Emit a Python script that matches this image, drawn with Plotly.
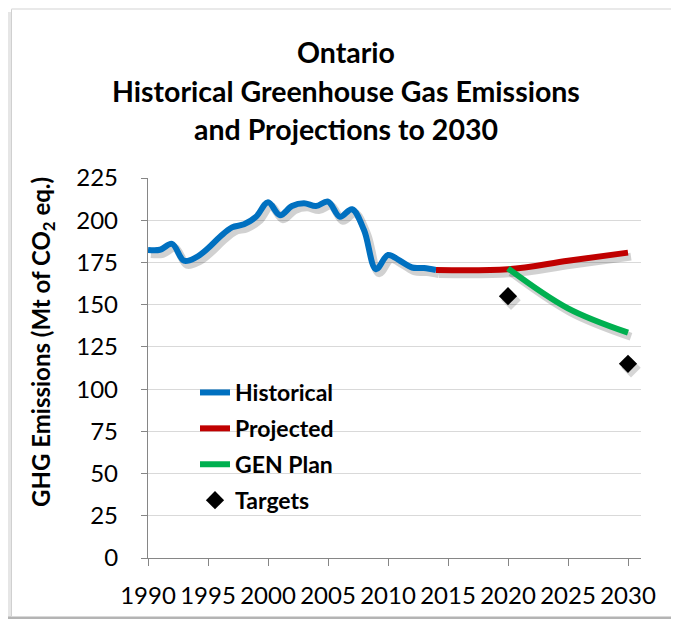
import plotly.graph_objects as go

# ---- data ----
hist_years = list(range(1990, 2015))
hist_values = [182.4, 182.5, 186, 176, 178, 183.4, 190.2, 195.8, 197.6, 202,
               210.6, 203, 208.4, 210, 208.4, 211, 202, 206.5, 194.2, 171,
               179.4, 176, 172, 171.7, 170.5]
proj_years = [2014, 2020, 2025, 2030]
proj_values = [170.5, 171, 176, 180.8]
gen_years = [2020, 2025, 2030]
gen_values = [171.5, 147.8, 133.4]
target_years = [2020, 2030]
target_values = [155, 115]
x_ticks = [1990, 1995, 2000, 2005, 2010, 2015, 2020, 2025, 2030]
y_ticks = [0, 25, 50, 75, 100, 125, 150, 175, 200, 225]

OFF = 8  # page body margin
W, H = 679 - 2 * OFF, 627 - 2 * OFF
L = 148 - OFF
T = 178 - OFF
B = H - (558 - OFF)
R = W - (641 - OFF)
PW = W - L - R
PH = H - T - B
X0, X1 = 1990, 1990 + PW / 12.0
Y0, Y1 = 0, 225
px_per_year = PW / (X1 - X0)
px_per_unit = PH / (Y1 - Y0)
SHX, SHY = 3, 4  # shadow offset in px
FONT = "Lato"


def xp(page_px):
    return (page_px - OFF - L) / PW


def yp(page_py):
    return (H - B - (page_py - OFF)) / PH


fig = go.Figure()

series = [
    ("Historical", hist_years, hist_values, "#0070C0"),
    ("Projected", proj_years, proj_values, "#C00000"),
    ("GEN Plan", gen_years, gen_values, "#00B050"),
]

# shadows on hidden base axes (shifted ranges)
for name, xs, ys, col in series:
    fig.add_trace(go.Scatter(x=xs, y=ys, mode="lines", xaxis="x", yaxis="y",
                             line=dict(color="rgba(0,0,0,0.18)", width=8, shape="spline"),
                             showlegend=False, hoverinfo="skip", legendgroup=name))
fig.add_trace(go.Scatter(x=target_years, y=target_values, mode="markers", xaxis="x", yaxis="y",
                         marker=dict(symbol="diamond", size=15, color="rgba(0,0,0,0.16)"),
                         showlegend=False, hoverinfo="skip", legendgroup="Targets"))

# real traces on visible overlay axes
for name, xs, ys, col in series:
    fig.add_trace(go.Scatter(x=xs, y=ys, mode="lines", name=name, xaxis="x2", yaxis="y2",
                             line=dict(color=col, width=6, shape="spline"),
                             legendgroup=name))
fig.add_trace(go.Scatter(x=target_years, y=target_values, mode="markers", name="Targets",
                         xaxis="x2", yaxis="y2",
                         marker=dict(symbol="diamond", size=14, color="black"),
                         legendgroup="Targets"))

tickfont = dict(family=FONT, size=24, color="black")

fig.update_layout(
    width=W, height=H,
    margin=dict(l=L, r=R, t=T, b=B, autoexpand=False),
    paper_bgcolor="white",
    plot_bgcolor="rgba(0,0,0,0)",
    xaxis=dict(range=[X0 - SHX / px_per_year, X1 - SHX / px_per_year], visible=False,
               fixedrange=True),
    yaxis=dict(range=[Y0 + SHY / px_per_unit, Y1 + SHY / px_per_unit], visible=False,
               fixedrange=True),
    xaxis2=dict(range=[X0, X1], overlaying="x", anchor="y2", tickvals=x_ticks,
                ticktext=[str(v) for v in x_ticks], showgrid=False, zeroline=False,
                showline=True, linecolor="#868686", linewidth=1.3, tickangle=0,
                automargin=False,
                ticks="outside", ticklen=7, tickcolor="#868686", tickwidth=1.3,
                ticklabelstandoff=9, tickfont=tickfont),
    yaxis2=dict(range=[Y0, Y1], overlaying="y", anchor="x2", tickvals=y_ticks,
                showgrid=True, gridcolor="#d9d9d9", gridwidth=1.3, zeroline=False,
                showline=True, linecolor="#868686", linewidth=1.3, automargin=False,
                ticks="outside", ticklen=6, tickcolor="#868686", tickwidth=1.3,
                ticklabelstandoff=18, tickfont=tickfont),
    legend=dict(x=xp(195), y=yp(371), xanchor="left", yanchor="top",
                bgcolor="rgba(0,0,0,0)", traceorder="grouped", tracegroupgap=3,
                font=dict(family=FONT, size=23, color="black", weight="bold")),
    showlegend=True,
)

# frame: left/bottom shadow bands, then left/top/bottom edges (no right edge visible)
fig.add_shape(type="rect", xref="paper", yref="paper", layer="below",
              x0=xp(8), x1=xp(11), y0=yp(619), y1=yp(12),
              fillcolor="#e6e6e6", line=dict(width=0))
fig.add_shape(type="rect", xref="paper", yref="paper", layer="below",
              x0=xp(8), x1=xp(671), y0=yp(619), y1=yp(616.5),
              fillcolor="#b4b4b4", line=dict(width=0))
fig.add_shape(type="line", xref="paper", yref="paper", layer="below",
              x0=xp(11.5), x1=xp(11.5), y0=yp(616.5), y1=yp(9),
              line=dict(color="#d0d0d0", width=1))
fig.add_shape(type="line", xref="paper", yref="paper", layer="below",
              x0=xp(11.5), x1=xp(671), y0=yp(9), y1=yp(9),
              line=dict(color="#e2e2e2", width=1.5))

# title lines
title_lines = ["Ontario", "Historical Greenhouse Gas Emissions", "and Projections to 2030"]
title_y = [52, 91, 129]
for txt, ty in zip(title_lines, title_y):
    fig.add_annotation(text="<b>%s</b>" % txt, xref="paper", yref="paper",
                       x=xp(346), y=yp(ty), xanchor="center", yanchor="middle",
                       showarrow=False, font=dict(family=FONT, size=28.5, color="black"))

# y axis title
fig.add_annotation(text="<b>GHG Emissions (Mt of CO<sub>2</sub> eq.)</b>", xref="paper", yref="paper",
                   x=xp(42), y=yp(342), xanchor="center", yanchor="middle", textangle=-90,
                   showarrow=False, font=dict(family=FONT, size=24, color="black"))

fig.write_html("out.html", config={"displayModeBar": False})
